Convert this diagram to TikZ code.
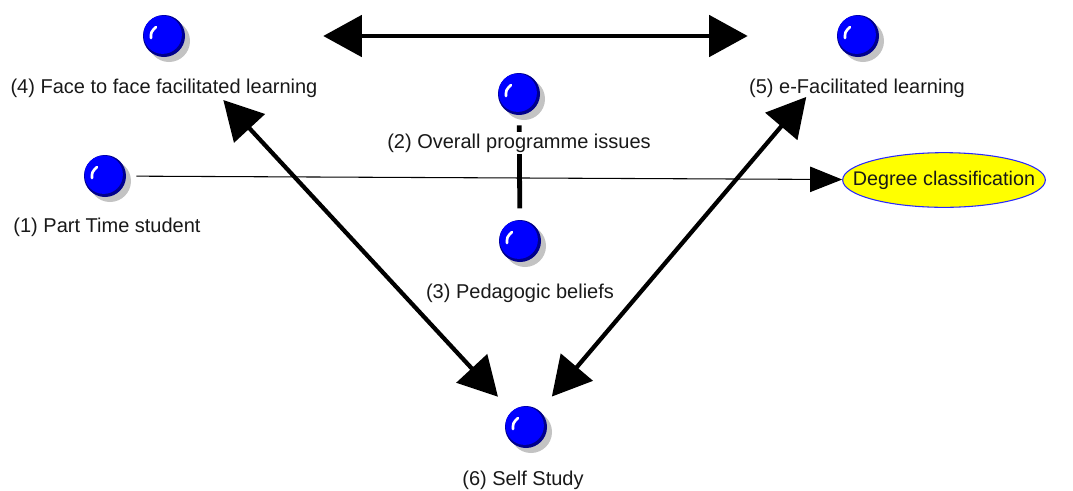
\documentclass[tikz,border=0pt]{standalone}
\usepackage{fontspec}
\setmainfont{Liberation Sans}
\usetikzlibrary{arrows.meta,shapes.geometric,shadows}
\definecolor{ballblue}{RGB}{0,0,255}
\definecolor{ballrim}{RGB}{0,0,140}
\definecolor{shadowgray}{RGB}{195,195,195}
\definecolor{degfill}{RGB}{255,255,0}
\definecolor{degline}{RGB}{40,40,255}
\definecolor{labeltext}{RGB}{25,25,25}

\begin{document}
\begin{tikzpicture}[x=0.75pt,y=-0.75pt,
  ball/.style={circle, minimum size=31.5pt, inner sep=0pt, fill=ballrim,
    drop shadow={shadow xshift=3.75pt, shadow yshift=-3.75pt, fill=shadowgray, opacity=1},
    path picture={
      \fill[ballblue] ([shift={(-1.3,-1.3)}]path picture bounding box.center) circle[radius=14.4pt];
      \draw[white, line width=2pt, line cap=round]
        ([shift={(-13,2)}]path picture bounding box.center)
        .. controls ([shift={(-13,-4)}]path picture bounding box.center)
        .. ([shift={(-8,-9)}]path picture bounding box.center);
    }},
  lbl/.style={font=\fontsize{15}{18}\selectfont, text=labeltext, inner sep=1pt},
  outcome/.style={ellipse, draw=degline, line width=0.8pt, fill=degfill, inner sep=0pt,
    minimum width=152pt, minimum height=41pt, font=\fontsize{14.8}{18}\selectfont, text=labeltext},
  bigarrow/.style={line width=3.2pt,
    {Triangle[length=29pt,width=31pt]}-{Triangle[length=29pt,width=31pt]}},
  flowarrow/.style={line width=0.8pt, -{Triangle[length=24pt,width=19pt]}},
  link/.style={line width=3.6pt}
]
\useasboundingbox (0,0) rectangle (1073,490);

% concept balls
\node[ball] (n4) at (164,36) {};
\node[ball] (n5) at (858,36) {};
\node[ball] (n2) at (519,94) {};
\node[ball] (n1) at (105,176) {};
\node[ball] (n3) at (520,241) {};
\node[ball] (n6) at (526,427) {};

% outcome: the ellipse keeps its fixed size, the text sits inside it
\node[outcome] (deg) at (944,180) {\makebox[0pt]{Degree classification}};

% connectors
\draw[bigarrow, shorten <=103.5pt, shorten >=66.8pt] (n4) -- (n5);
\draw[bigarrow, shorten <=49.5pt, shorten >=15pt] (n4) -- (n6);
\draw[bigarrow, shorten <=44pt, shorten >=14pt] (n5) -- (n6);
\draw[link, shorten <=7.5pt, shorten >=8.5pt] (n2) -- (n3);
\draw[flowarrow, shorten <=7.5pt] (n1) -- (deg);

% labels
\node[lbl] (l4) at (164,88) {(4) Face to face facilitated learning};
\node[lbl] (l5) at (857,88) {(5) e-Facilitated learning};
\node[lbl, fill=white] (l2) at (519,143) {(2) Overall programme issues};
\node[lbl] (l1) at (107,227) {(1) Part Time student};
\node[lbl] (l3) at (520,293) {(3) Pedagogic beliefs};
\node[lbl] (l6) at (523,480) {(6) Self Study};
\end{tikzpicture}
\end{document}
